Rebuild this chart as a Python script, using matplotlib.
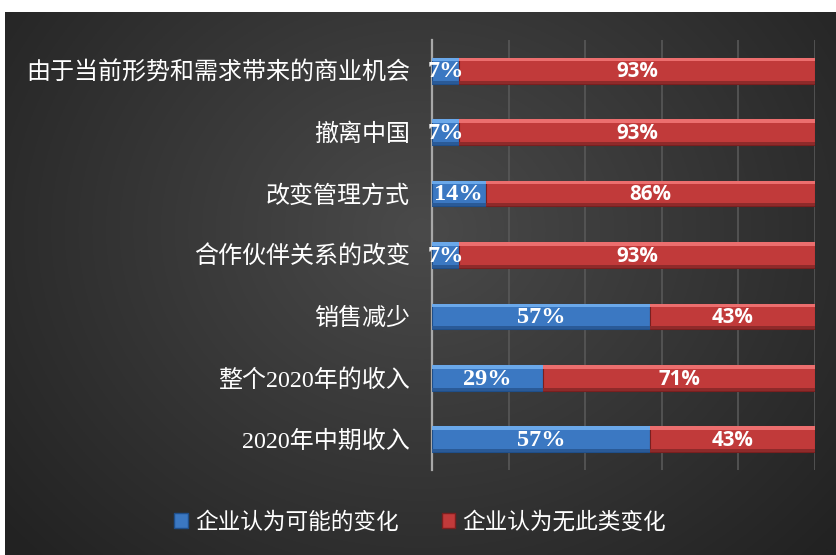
import numpy as np
import matplotlib
matplotlib.use("Agg")
import matplotlib.pyplot as plt
from matplotlib.patches import Rectangle

categories = ["由于当前形势和需求带来的商业机会", "撤离中国", "改变管理方式", "合作伙伴关系的改变",
              "销售减少", "整个2020年的收入", "2020年中期收入"]
possible = [7, 7, 14, 7, 57, 29, 57]
no_change = [93, 93, 86, 93, 43, 71, 43]
series_names = ["企业认为可能的变化", "企业认为无此类变化"]
xticks = [0, 20, 40, 60, 80, 100]

W, H = 837, 555
fig = plt.figure(figsize=(W / 100, H / 100), dpi=100)
fig.patch.set_facecolor("white")

# background radial gradient
bg = fig.add_axes([5 / W, 0, 1 - 5 / W, 1 - 12 / H])
yy, xx = np.mgrid[0:300, 0:500]
cx, cy = 250, 120
r = np.sqrt(((xx - cx) / 330) ** 2 + ((yy - cy) / 260) ** 2)
r = np.clip(r, 0, 1)
c0 = np.array([0x4a, 0x4a, 0x4a]) / 255
c1 = np.array([0x22, 0x22, 0x22]) / 255
img = c0[None, None, :] * (1 - r[..., None]) + c1[None, None, :] * r[..., None]
bg.imshow(img, aspect="auto", extent=[0, 1, 0, 1], origin="upper")
bg.set_axis_off()

ax = fig.add_axes([432 / W, 1 - 470 / H, (815 - 432) / W, (470 - 40) / H])
ax.set_facecolor("none")
y = np.arange(len(categories))
h = 0.42

blue, red = "#3b78c2", "#c13a3a"
b1 = ax.barh(y, possible, height=h, color=blue, edgecolor="#1f4f8a", linewidth=0.8, zorder=3)
b2 = ax.barh(y, no_change, left=possible, height=h, color=red, edgecolor="#7a1f1f", linewidth=0.8, zorder=3)
# bevel highlights
ax.barh(y - h / 2 + h * 0.07, possible, height=h * 0.14, color="#6aa8ea", linewidth=0, zorder=4)
ax.barh(y - h / 2 + h * 0.07, no_change, left=possible, height=h * 0.14, color="#ec6e6e", linewidth=0, zorder=4)
ax.barh(y + h / 2 - h * 0.06, possible, height=h * 0.12, color="#2a5a97", linewidth=0, zorder=4)
ax.barh(y + h / 2 - h * 0.06, no_change, left=possible, height=h * 0.12, color="#8e2a2a", linewidth=0, zorder=4)

for yi, p, n in zip(y, possible, no_change):
    ax.text(p / 2, yi + 0.02, f"{p}%", ha="center", va="center", color="white", fontsize=17.5,
            fontweight="bold", family="Liberation Serif", zorder=5)
    ax.text(p + n / 2, yi + 0.02, f"{n}%", ha="center", va="center", color="white", fontsize=14.8,
            fontweight="bold", family="Open Sans", zorder=5)

ax.set_xlim(0, 100)
ax.set_ylim(len(categories) - 0.5, -0.5)
ax.set_xticks(xticks)
ax.set_xticklabels([])
ax.tick_params(axis="x", length=0)
ax.grid(axis="x", color="#585858", linewidth=1.2, zorder=0)
ax.set_yticks(y)
ax.set_yticklabels(categories, family=["Liberation Serif", "Noto Sans CJK SC"], fontsize=17.3, color="white")
ax.tick_params(axis="y", length=0, pad=16)
for s in ["top", "right", "bottom"]:
    ax.spines[s].set_visible(False)
ax.spines["left"].set_color("#a8a8a8")
ax.spines["left"].set_linewidth(1.6)

handles = [Rectangle((0, 0), 1, 1, facecolor=blue, edgecolor="#1f4f8a"),
           Rectangle((0, 0), 1, 1, facecolor=red, edgecolor="#7a1f1f")]
fig.legend(handles, series_names, loc="center", bbox_to_anchor=(420 / W, 1 - 522 / H), ncol=2,
           frameon=False, prop={"family": ["Noto Sans CJK SC"], "size": 16.3}, labelcolor="white",
           handlelength=0.6, handleheight=0.6, handletextpad=0.3, columnspacing=1.9)

fig.savefig("out.png", dpi=100)
